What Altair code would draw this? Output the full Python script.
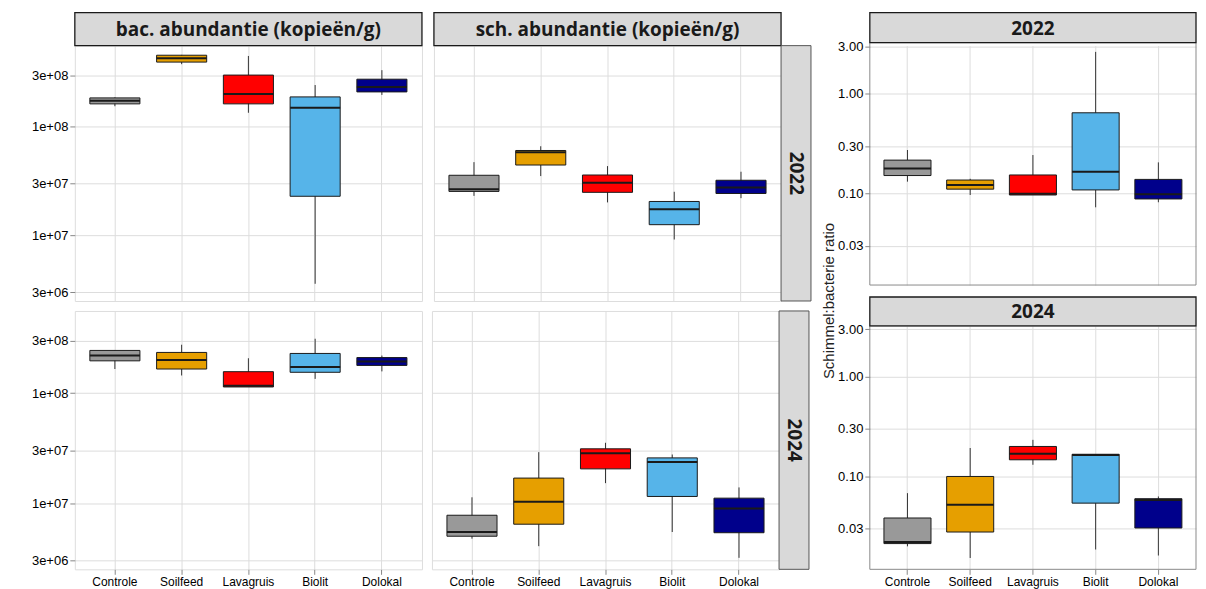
import altair as alt
import pandas as pd

categories = ["Controle", "Soilfeed", "Lavagruis", "Biolit", "Dolokal"]
box_colors = ["#999999", "#E69F00", "#FF0000", "#56B4E9", "#00008B"]

# bacterial abundance (copies/g) 2022
bac22_low = [1.55e8, 3.78e8, 1.35e8, 3.6e6, 1.97e8]
bac22_q1 = [1.63e8, 3.95e8, 1.63e8, 2.3e7, 2.10e8]
bac22_med = [1.74e8, 4.29e8, 2.01e8, 1.50e8, 2.33e8]
bac22_q3 = [1.85e8, 4.57e8, 3.00e8, 1.89e8, 2.75e8]
bac22_high = [1.87e8, 4.60e8, 4.50e8, 2.43e8, 3.33e8]

# bacterial abundance 2024
bac24_low = [1.66e8, 1.45e8, 1.14e8, 1.35e8, 1.58e8]
bac24_q1 = [1.97e8, 1.66e8, 1.14e8, 1.55e8, 1.79e8]
bac24_med = [2.20e8, 2.01e8, 1.17e8, 1.73e8, 1.94e8]
bac24_q3 = [2.45e8, 2.35e8, 1.57e8, 2.30e8, 2.11e8]
bac24_high = [2.45e8, 2.76e8, 2.08e8, 3.13e8, 2.20e8]

# fungal abundance 2022
sch22_low = [2.32e7, 3.53e7, 2.02e7, 9.2e6, 2.21e7]
sch22_q1 = [2.55e7, 4.46e7, 2.50e7, 1.26e7, 2.44e7]
sch22_med = [2.67e7, 5.85e7, 3.07e7, 1.75e7, 2.77e7]
sch22_q3 = [3.59e7, 6.07e7, 3.61e7, 2.06e7, 3.23e7]
sch22_high = [4.74e7, 6.64e7, 4.36e7, 2.53e7, 3.87e7]

# fungal abundance 2024
sch24_low = [4.75e6, 4.06e6, 1.52e7, 5.46e6, 3.18e6]
sch24_q1 = [5.00e6, 6.43e6, 2.05e7, 1.15e7, 5.38e6]
sch24_med = [5.45e6, 1.03e7, 2.85e7, 2.37e7, 8.94e6]
sch24_q3 = [7.76e6, 1.69e7, 3.12e7, 2.58e7, 1.11e7]
sch24_high = [1.13e7, 2.91e7, 3.54e7, 2.77e7, 1.39e7]

# fungi:bacteria ratio 2022
rat22_low = [0.132, 0.097, 0.097, 0.073, 0.082]
rat22_q1 = [0.152, 0.111, 0.097, 0.109, 0.0885]
rat22_med = [0.179, 0.122, 0.100, 0.166, 0.0986]
rat22_q3 = [0.217, 0.137, 0.154, 0.647, 0.139]
rat22_high = [0.274, 0.141, 0.244, 2.64, 0.206]

# fungi:bacteria ratio 2024
rat24_low = [0.0199, 0.0152, 0.131, 0.0185, 0.0161]
rat24_q1 = [0.0212, 0.0277, 0.147, 0.054, 0.0304]
rat24_med = [0.0220, 0.052, 0.169, 0.164, 0.058]
rat24_q3 = [0.0383, 0.100, 0.200, 0.167, 0.0598]
rat24_high = [0.068, 0.193, 0.233, 0.167, 0.063]

abund_ticks = [3e6, 1e7, 3e7, 1e8, 3e8]
abund_tick_labels = ["3e+06", "1e+07", "3e+07", "1e+08", "3e+08"]
ratio_ticks = [0.03, 0.1, 0.3, 1.0, 3.0]
ratio_tick_labels = ["0.03", "0.10", "0.30", "1.00", "3.00"]

col_titles = ["bac. abundantie (kopieën/g)", "sch. abundantie (kopieën/g)"]
years = ["2022", "2024"]
ratio_title = "Schimmel:bacterie ratio"

abund_domain = [2.5e6, 5.6e8]
ratio22_domain = [0.01213, 3.05]
ratio24_domain = [0.0117, 3.24]


def frame(low, q1, med, q3, high):
    return pd.DataFrame({"cat": categories, "low": low, "q1": q1,
                         "med": med, "q3": q3, "high": high})


def label_expr(values, labels):
    expr = "''"
    for v, l in reversed(list(zip(values, labels))):
        expr = f"abs(datum.value - {v}) < {v * 1e-3} ? '{l}' : " + expr
    return expr


def panel(df, width, height, domain, ticks, tick_labels, show_x, show_y,
          top_strip=None, top_h=33, right_strip=None, ytitle=None, min_extent=None,
          own_border=None):
    xenc = alt.X("cat:N", sort=categories,
                 scale=alt.Scale(domain=categories, paddingInner=0.25, paddingOuter=0.225),
                 axis=alt.Axis(title=None, labels=show_x, ticks=show_x, labelAngle=0,
                               grid=True, domain=False, labelFontSize=12))
    yscale = alt.Scale(type="log", domain=domain, nice=False)
    ykw = dict(title=None, values=ticks, labelExpr=label_expr(ticks, tick_labels),
               labels=show_y, ticks=show_y, grid=True, domain=False, labelFontSize=13)
    if min_extent is not None:
        ykw["minExtent"] = min_extent
    yaxis = alt.Axis(**ykw)
    base = alt.Chart(df)
    whisk = base.mark_rule(color="#333333", strokeWidth=1).encode(
        x=xenc, y=alt.Y("low:Q", scale=yscale, axis=yaxis), y2="high:Q")
    box = base.mark_bar(stroke="#1a1a1a", strokeWidth=1).encode(
        x=xenc, y=alt.Y("q1:Q", scale=yscale, axis=yaxis), y2="q3:Q",
        color=alt.Color("cat:N", scale=alt.Scale(domain=categories, range=box_colors), legend=None))
    med = base.mark_tick(color="#1a1a1a", thickness=2, size=width * 0.75 / 5.2, opacity=1).encode(
        x=xenc, y=alt.Y("med:Q", scale=yscale, axis=yaxis))
    layers = [whisk, box, med]
    shift = 0
    if own_border is not None:
        shift = own_border
        bdf = pd.DataFrame({"label": ["border"]})
        layers.append(alt.Chart(bdf).mark_rect(fillOpacity=0, fill="white", stroke="#8a8a8a", strokeWidth=1).encode(
            x=alt.value(0), x2=alt.value(width), y=alt.value(-shift), y2=alt.value(height)))
    if top_strip is not None:
        sdf = pd.DataFrame({"label": [top_strip]})
        layers.append(alt.Chart(sdf).mark_rect(fill="#d9d9d9", stroke="#1a1a1a", strokeWidth=1.3).encode(
            x=alt.value(0), x2=alt.value(width), y=alt.value(-top_h - shift), y2=alt.value(-shift)))
        layers.append(alt.Chart(sdf).mark_text(font="Open Sans", fontWeight="bold", fontSize=19,
                                               color="#1a1a1a", baseline="middle", align="center").encode(
            x=alt.value(width / 2), y=alt.value(-top_h / 2 + 1 - shift), text="label:N"))
    if right_strip is not None:
        sdf = pd.DataFrame({"label": [right_strip]})
        layers.append(alt.Chart(sdf).mark_rect(fill="#d9d9d9", stroke="#555555", strokeWidth=1).encode(
            x=alt.value(width), x2=alt.value(width + 30), y=alt.value(0), y2=alt.value(height)))
        layers.append(alt.Chart(sdf).mark_text(font="Open Sans", fontWeight="bold", fontSize=19,
                                               color="#1a1a1a", angle=90, baseline="middle", align="center").encode(
            x=alt.value(width + 15), y=alt.value(height / 2), text="label:N"))
    if ytitle is not None:
        tdf = pd.DataFrame({"label": [ytitle[0]]})
        layers.append(alt.Chart(tdf).mark_text(font="Liberation Sans", fontSize=15, color="#222222",
                                               angle=270, baseline="middle", align="center").encode(
            x=alt.value(ytitle[1]), y=alt.value(ytitle[2]), text="label:N"))
    ch = alt.layer(*layers).properties(width=width, height=height)
    if own_border is not None:
        ch = ch.properties(view=alt.ViewBackground(stroke="transparent"))
    return ch


W_bac, W_sch, W_rat = 348, 348, 327
H_top, H_bot = 256, 259
H_r1, H_r2 = 240, 244

bac22 = panel(frame(bac22_low, bac22_q1, bac22_med, bac22_q3, bac22_high), W_bac, H_top, abund_domain,
              abund_ticks, abund_tick_labels, False, True, top_strip=col_titles[0])
sch22 = panel(frame(sch22_low, sch22_q1, sch22_med, sch22_q3, sch22_high), W_sch, H_top, abund_domain,
              abund_ticks, abund_tick_labels, False, False, top_strip=col_titles[1], right_strip=years[0])
bac24 = panel(frame(bac24_low, bac24_q1, bac24_med, bac24_q3, bac24_high), W_bac, H_bot, abund_domain,
              abund_ticks, abund_tick_labels, True, True)
sch24 = panel(frame(sch24_low, sch24_q1, sch24_med, sch24_q3, sch24_high), W_sch, H_bot, abund_domain,
              abund_ticks, abund_tick_labels, True, False, right_strip=years[1])
rat22 = panel(frame(rat22_low, rat22_q1, rat22_med, rat22_q3, rat22_high), W_rat, H_r1, ratio22_domain,
              ratio_ticks, ratio_tick_labels, False, True, top_strip=years[0], top_h=30,
              ytitle=(ratio_title, -41, 256), min_extent=50, own_border=3)
rat24 = panel(frame(rat24_low, rat24_q1, rat24_med, rat24_q3, rat24_high), W_rat, H_r2, ratio24_domain,
              ratio_ticks, ratio_tick_labels, True, True, top_strip=years[1], top_h=29, min_extent=50,
              own_border=0)

row1 = alt.hconcat(bac22, sch22, spacing=8).resolve_scale(x="independent", y="independent")
row2 = alt.hconcat(bac24, sch24, spacing=8).resolve_scale(x="independent", y="independent")
left = alt.vconcat(row1, row2, spacing=8).resolve_scale(x="independent", y="independent")
right = alt.vconcat(rat22, rat24, spacing=41, bounds="flush").resolve_scale(x="independent", y="independent")

chart = alt.hconcat(left, right, spacing=7).resolve_scale(
    x="independent", y="independent"
).properties(
    padding={"left": 22, "top": 2, "right": 0, "bottom": 0}
).configure_view(
    stroke="#8a8a8a", strokeWidth=1
).configure_axis(
    labelFont="Liberation Sans", labelColor="#555555",
    tickColor="#555555", tickSize=4, gridColor="#f2f2f2", labelPadding=2
).configure(background="white")

chart.save("out.html", embed_options={"renderer": "svg", "actions": False})
